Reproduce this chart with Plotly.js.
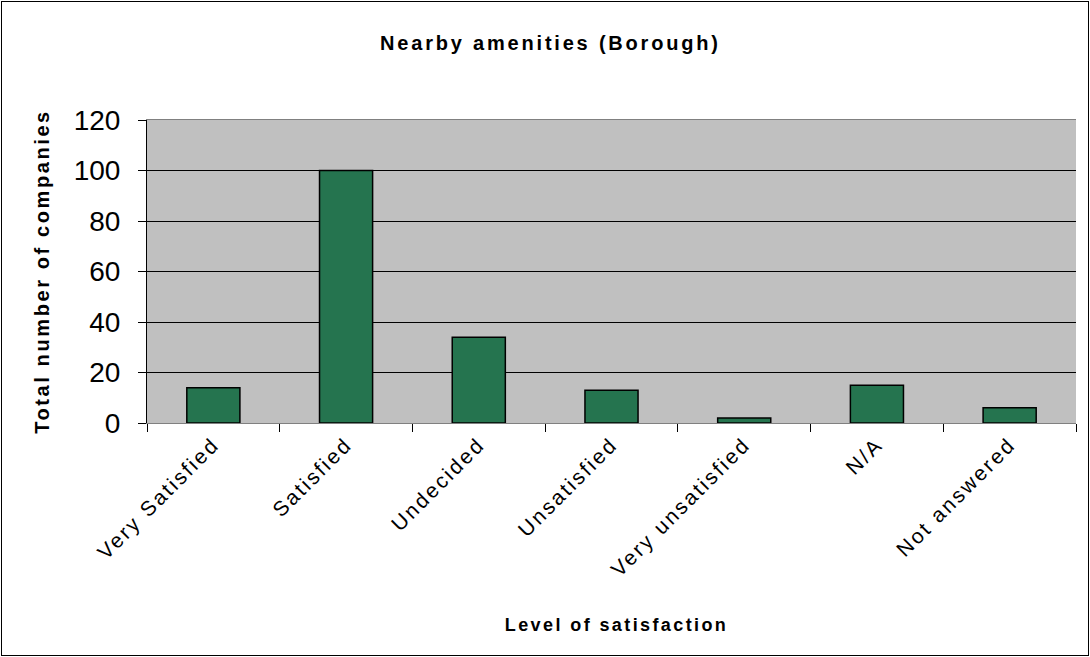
<!DOCTYPE html>
<html>
<head>
<meta charset="utf-8">
<script src="https://cdn.plot.ly/plotly-3.0.1.min.js"></script>
<style>
html,body{margin:0;padding:0;background:#fff;}
#frame{position:absolute;left:1px;top:1px;width:1086px;height:653px;border:1px solid #000;}
#chart{width:1086px;height:653px;}
#chart .gtitle{letter-spacing:2.8px;}
#chart .ytitle{letter-spacing:2.6px;}
#chart .annotation-text{letter-spacing:2.4px;}
#chart .xtick text{letter-spacing:2.4px;}
</style>
</head>
<body>
<div id="frame"><div id="chart"></div></div>
<script>
const categories = ["Very Satisfied", "Satisfied", "Undecided", "Unsatisfied", "Very unsatisfied", "N/A", "Not answered"];
const companies = [14, 100, 34, 13, 2, 15, 6];
const yTicks = [0, 20, 40, 60, 80, 100, 120];

const font = "Liberation Sans, Arial, sans-serif";

const trace = {
  type: "bar",
  x: categories,
  y: companies,
  width: 0.4,
  marker: {color: "#25744f", line: {color: "#000000", width: 1.5}},
  hoverinfo: "x+y"
};

const layout = {
  width: 1086, height: 653,
  paper_bgcolor: "#ffffff",
  plot_bgcolor: "#c0c0c0",
  margin: {l: 145, r: 12, t: 118, b: 232},
  showlegend: false,
  title: {text: "<b>Nearby amenities (Borough)</b>", font: {family: font, size: 20, color: "#000"}, x: 0.505, xref: "container", y: 0.937, yref: "container", xanchor: "center", yanchor: "middle"},
  xaxis: {
    type: "category",
    tickangle: -45,
    tickfont: {family: font, size: 21, color: "#000"},
    ticks: "outside", ticklen: 8, tickcolor: "#000", tickson: "boundaries",
    showline: true, linecolor: "#808080", linewidth: 1, mirror: true,
    showgrid: false
  },
  yaxis: {
    range: [0, 120],
    tickvals: yTicks,
    tickfont: {family: font, size: 28, color: "#000"},
    ticks: "outside", ticklen: 8, tickcolor: "#000", ticklabelstandoff: 12,
    showline: true, linecolor: "#000", linewidth: 1,
    showgrid: true, gridcolor: "#000", gridwidth: 1,
    zeroline: false,
    title: {text: "<b>Total number of companies</b>", font: {family: font, size: 20, color: "#000"}, standoff: 18}
  },
  annotations: [{
    text: "<b>Level of satisfaction</b>", xref: "paper", yref: "paper",
    x: 0.505, y: -0.668, xanchor: "center", yanchor: "middle", showarrow: false,
    font: {family: font, size: 18, color: "#000"}
  }]
};

Plotly.newPlot("chart", [trace], layout, {displayModeBar: false, staticPlot: true});
</script>
</body>
</html>
